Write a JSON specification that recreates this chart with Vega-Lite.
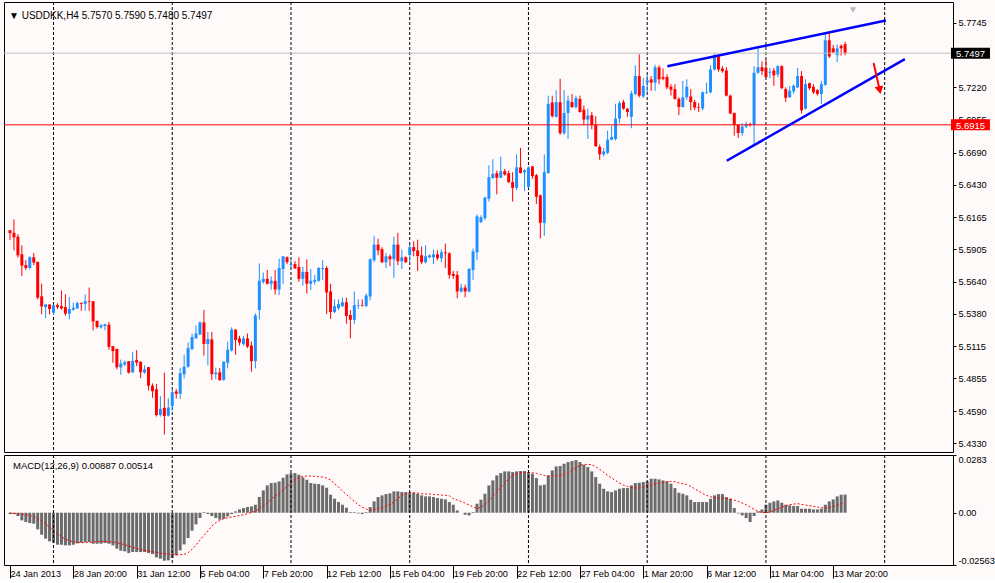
{
  "$schema": "https://vega.github.io/schema/vega-lite/v6.json",
  "background": "#FFFAFA",
  "padding": {"left": 3, "top": 1, "right": 0, "bottom": 0},
  "spacing": 1,
  "config": {
    "view": {"stroke": "#000000", "strokeWidth": 1},
    "font": "Liberation Sans",
    "axis": {"labelFont": "Liberation Sans", "labelFontSize": 9.2, "labelColor": "#000000", "tickColor": "#000000", "domain": false, "grid": false, "labelOverlap": false, "labelBound": false, "title": null},
    "axisX": {"labelAlign": "left", "labelBaseline": "top", "labelDx": 1.5, "tickSize": 13, "labelPadding": -9, "labelFlush": false},
    "axisY": {"tickSize": 3, "labelPadding": 2, "labelFlush": true}
  },
  "datasets": {
    "grid": [{"i": 11}, {"i": 41}, {"i": 71}, {"i": 101}, {"i": 131}, {"i": 161}, {"i": 191}, {"i": 221}],
    "headers": [
      {"panel": "price", "text": "▼ USDDKK,H4 5.7570 5.7590 5.7480 5.7497"},
      {"panel": "macd", "text": "MACD(12,26,9) 0.00887 0.00514"}
    ],
    "objects": [
      {"kind": "trend", "x1": 166.1, "p1": 5.739, "x2": 221.3, "p2": 5.7763},
      {"kind": "trend", "x1": 181.1, "p1": 5.6623, "x2": 226.1, "p2": 5.7449},
      {"kind": "arrow", "x1": 218.2, "p1": 5.7417, "x2": 219.75, "p2": 5.7197},
      {"kind": "shift", "x1": 213, "p1": 5.7848}
    ],
    "markers": [
      {"kind": "last", "p": 5.7497, "label": "5.7497"},
      {"kind": "level", "p": 5.6915, "label": "5.6915"}
    ],
    "bars": [
      {"i":0,"o":5.6059,"h":5.6059,"l":5.598,"c":5.6035},
      {"i":1,"o":5.6038,"h":5.6146,"l":5.5895,"c":5.6001},
      {"i":2,"o":5.6006,"h":5.6027,"l":5.5837,"c":5.5855},
      {"i":3,"o":5.5863,"h":5.5935,"l":5.5688,"c":5.5771},
      {"i":4,"o":5.5776,"h":5.5816,"l":5.5736,"c":5.5752},
      {"i":5,"o":5.5752,"h":5.5847,"l":5.5741,"c":5.5839},
      {"i":6,"o":5.5839,"h":5.5874,"l":5.5776,"c":5.5797},
      {"i":7,"o":5.5802,"h":5.5802,"l":5.5498,"c":5.5511},
      {"i":8,"o":5.5522,"h":5.5625,"l":5.5376,"c":5.544},
      {"i":9,"o":5.5434,"h":5.5456,"l":5.5344,"c":5.5456},
      {"i":10,"o":5.5456,"h":5.5456,"l":5.5376,"c":5.5419},
      {"i":11,"o":5.5389,"h":5.5456,"l":5.5371,"c":5.545},
      {"i":12,"o":5.545,"h":5.5466,"l":5.5419,"c":5.5434},
      {"i":13,"o":5.5442,"h":5.5569,"l":5.5413,"c":5.5424},
      {"i":14,"o":5.5434,"h":5.5538,"l":5.5365,"c":5.5381},
      {"i":15,"o":5.5381,"h":5.5516,"l":5.5334,"c":5.5419},
      {"i":16,"o":5.5413,"h":5.5471,"l":5.5405,"c":5.5429},
      {"i":17,"o":5.5424,"h":5.5479,"l":5.5419,"c":5.5466},
      {"i":18,"o":5.5469,"h":5.5471,"l":5.5405,"c":5.5461},
      {"i":19,"o":5.5461,"h":5.5538,"l":5.5405,"c":5.5482},
      {"i":20,"o":5.5482,"h":5.5593,"l":5.5405,"c":5.5477},
      {"i":21,"o":5.5482,"h":5.5482,"l":5.5246,"c":5.5318},
      {"i":22,"o":5.5323,"h":5.5323,"l":5.526,"c":5.5273},
      {"i":23,"o":5.527,"h":5.5299,"l":5.526,"c":5.5286},
      {"i":24,"o":5.5281,"h":5.5299,"l":5.5246,"c":5.5294},
      {"i":25,"o":5.5291,"h":5.5313,"l":5.5088,"c":5.5111},
      {"i":26,"o":5.5117,"h":5.5117,"l":5.4982,"c":5.5077},
      {"i":27,"o":5.5095,"h":5.5095,"l":5.4929,"c":5.4945},
      {"i":28,"o":5.4945,"h":5.5008,"l":5.4884,"c":5.4976},
      {"i":29,"o":5.4968,"h":5.5,"l":5.4955,"c":5.4987},
      {"i":30,"o":5.4995,"h":5.4995,"l":5.4894,"c":5.4902},
      {"i":31,"o":5.4905,"h":5.5069,"l":5.49,"c":5.4998},
      {"i":32,"o":5.5006,"h":5.5085,"l":5.4955,"c":5.4984},
      {"i":33,"o":5.499,"h":5.4995,"l":5.4857,"c":5.4905},
      {"i":34,"o":5.4902,"h":5.4961,"l":5.4894,"c":5.4929},
      {"i":35,"o":5.4947,"h":5.4947,"l":5.4757,"c":5.4796},
      {"i":36,"o":5.4796,"h":5.4815,"l":5.4698,"c":5.4751},
      {"i":37,"o":5.4767,"h":5.481,"l":5.4545,"c":5.4558},
      {"i":38,"o":5.4558,"h":5.4712,"l":5.4545,"c":5.4608},
      {"i":39,"o":5.4616,"h":5.4902,"l":5.4399,"c":5.455},
      {"i":40,"o":5.4553,"h":5.4693,"l":5.4545,"c":5.4619},
      {"i":41,"o":5.463,"h":5.4765,"l":5.4593,"c":5.4743},
      {"i":42,"o":5.4749,"h":5.477,"l":5.4691,"c":5.473},
      {"i":43,"o":5.473,"h":5.4942,"l":5.4691,"c":5.4897},
      {"i":44,"o":5.4889,"h":5.5048,"l":5.4855,"c":5.495},
      {"i":45,"o":5.495,"h":5.5148,"l":5.4942,"c":5.5101},
      {"i":46,"o":5.5093,"h":5.522,"l":5.5085,"c":5.5191},
      {"i":47,"o":5.518,"h":5.5286,"l":5.518,"c":5.522},
      {"i":48,"o":5.5212,"h":5.5318,"l":5.5207,"c":5.531},
      {"i":49,"o":5.531,"h":5.5411,"l":5.504,"c":5.5135},
      {"i":50,"o":5.5135,"h":5.5233,"l":5.4961,"c":5.5175},
      {"i":51,"o":5.5172,"h":5.5233,"l":5.4841,"c":5.4889},
      {"i":52,"o":5.4889,"h":5.4942,"l":5.4849,"c":5.4902},
      {"i":53,"o":5.4905,"h":5.4939,"l":5.4836,"c":5.4841},
      {"i":54,"o":5.4844,"h":5.4995,"l":5.4836,"c":5.499},
      {"i":55,"o":5.4982,"h":5.5154,"l":5.4937,"c":5.5088},
      {"i":56,"o":5.5082,"h":5.527,"l":5.5074,"c":5.5252},
      {"i":57,"o":5.5252,"h":5.5252,"l":5.5048,"c":5.5167},
      {"i":58,"o":5.518,"h":5.5201,"l":5.5122,"c":5.5146},
      {"i":59,"o":5.5133,"h":5.5201,"l":5.5122,"c":5.518},
      {"i":60,"o":5.518,"h":5.522,"l":5.5101,"c":5.5114},
      {"i":61,"o":5.5122,"h":5.5154,"l":5.491,"c":5.4995},
      {"i":62,"o":5.4995,"h":5.5384,"l":5.4937,"c":5.5366},
      {"i":63,"o":5.5411,"h":5.5789,"l":5.5334,"c":5.5649},
      {"i":64,"o":5.564,"h":5.5715,"l":5.5624,"c":5.5664},
      {"i":65,"o":5.5664,"h":5.5736,"l":5.5618,"c":5.5624},
      {"i":66,"o":5.5624,"h":5.5683,"l":5.5577,"c":5.5648},
      {"i":67,"o":5.5648,"h":5.5736,"l":5.5537,"c":5.5577},
      {"i":68,"o":5.5577,"h":5.5828,"l":5.5532,"c":5.5752},
      {"i":69,"o":5.5744,"h":5.5847,"l":5.5624,"c":5.5847},
      {"i":70,"o":5.5839,"h":5.5847,"l":5.5783,"c":5.5799},
      {"i":71,"o":5.5775,"h":5.5815,"l":5.5749,"c":5.5783},
      {"i":72,"o":5.5783,"h":5.5807,"l":5.5744,"c":5.5749},
      {"i":73,"o":5.576,"h":5.5839,"l":5.564,"c":5.5664},
      {"i":74,"o":5.5664,"h":5.5762,"l":5.5609,"c":5.572},
      {"i":75,"o":5.572,"h":5.5823,"l":5.5545,"c":5.5624},
      {"i":76,"o":5.5624,"h":5.5744,"l":5.5572,"c":5.5648},
      {"i":77,"o":5.564,"h":5.5696,"l":5.5617,"c":5.5656},
      {"i":78,"o":5.5648,"h":5.576,"l":5.564,"c":5.5752},
      {"i":79,"o":5.5744,"h":5.5815,"l":5.5656,"c":5.5752},
      {"i":80,"o":5.5752,"h":5.5767,"l":5.5378,"c":5.5553},
      {"i":81,"o":5.5561,"h":5.5624,"l":5.5339,"c":5.5394},
      {"i":82,"o":5.5394,"h":5.5497,"l":5.5386,"c":5.5442},
      {"i":83,"o":5.5426,"h":5.5497,"l":5.541,"c":5.5458},
      {"i":84,"o":5.5442,"h":5.5511,"l":5.5434,"c":5.5474},
      {"i":85,"o":5.5474,"h":5.5511,"l":5.5299,"c":5.5362},
      {"i":86,"o":5.537,"h":5.541,"l":5.518,"c":5.5331},
      {"i":87,"o":5.5331,"h":5.5561,"l":5.5299,"c":5.545},
      {"i":88,"o":5.5445,"h":5.5497,"l":5.5418,"c":5.545},
      {"i":89,"o":5.545,"h":5.5497,"l":5.5439,"c":5.5445},
      {"i":90,"o":5.5445,"h":5.5545,"l":5.5434,"c":5.5529},
      {"i":91,"o":5.5521,"h":5.5831,"l":5.5489,"c":5.5823},
      {"i":92,"o":5.5815,"h":5.6014,"l":5.5799,"c":5.5942},
      {"i":93,"o":5.5942,"h":5.599,"l":5.5855,"c":5.5895},
      {"i":94,"o":5.5905,"h":5.5921,"l":5.5791,"c":5.5799},
      {"i":95,"o":5.5799,"h":5.5873,"l":5.5752,"c":5.5847},
      {"i":96,"o":5.5847,"h":5.5863,"l":5.5767,"c":5.5823},
      {"i":97,"o":5.5823,"h":5.6006,"l":5.5672,"c":5.5942},
      {"i":98,"o":5.5942,"h":5.6037,"l":5.5775,"c":5.5807},
      {"i":99,"o":5.5807,"h":5.5902,"l":5.5744,"c":5.5839},
      {"i":100,"o":5.5839,"h":5.5847,"l":5.5794,"c":5.5799},
      {"i":101,"o":5.5857,"h":5.5942,"l":5.5802,"c":5.5921},
      {"i":102,"o":5.5921,"h":5.5969,"l":5.5847,"c":5.5889},
      {"i":103,"o":5.5895,"h":5.5982,"l":5.5728,"c":5.5849},
      {"i":104,"o":5.5855,"h":5.5926,"l":5.5783,"c":5.5799},
      {"i":105,"o":5.5799,"h":5.5937,"l":5.5789,"c":5.5847},
      {"i":106,"o":5.5839,"h":5.5863,"l":5.5831,"c":5.5855},
      {"i":107,"o":5.5839,"h":5.5902,"l":5.5783,"c":5.5863},
      {"i":108,"o":5.5863,"h":5.5895,"l":5.5815,"c":5.5831},
      {"i":109,"o":5.5831,"h":5.5902,"l":5.5799,"c":5.5879},
      {"i":110,"o":5.5879,"h":5.595,"l":5.5752,"c":5.5871},
      {"i":111,"o":5.5871,"h":5.5879,"l":5.5664,"c":5.5696},
      {"i":112,"o":5.5704,"h":5.5728,"l":5.5664,"c":5.5688},
      {"i":113,"o":5.5696,"h":5.5728,"l":5.5505,"c":5.5561},
      {"i":114,"o":5.5561,"h":5.5624,"l":5.5553,"c":5.5593},
      {"i":115,"o":5.5593,"h":5.5617,"l":5.5513,"c":5.5561},
      {"i":116,"o":5.5561,"h":5.5752,"l":5.5553,"c":5.5744},
      {"i":117,"o":5.5736,"h":5.591,"l":5.5656,"c":5.5887},
      {"i":118,"o":5.5879,"h":5.6188,"l":5.5815,"c":5.6172},
      {"i":119,"o":5.6125,"h":5.618,"l":5.6117,"c":5.6164},
      {"i":120,"o":5.6157,"h":5.6331,"l":5.6141,"c":5.6323},
      {"i":121,"o":5.6315,"h":5.6585,"l":5.6292,"c":5.649},
      {"i":122,"o":5.6482,"h":5.6636,"l":5.6477,"c":5.6516},
      {"i":123,"o":5.6522,"h":5.6543,"l":5.635,"c":5.6485},
      {"i":124,"o":5.6485,"h":5.6657,"l":5.6482,"c":5.6538},
      {"i":125,"o":5.6538,"h":5.6556,"l":5.6503,"c":5.6511},
      {"i":126,"o":5.6522,"h":5.6543,"l":5.6442,"c":5.645},
      {"i":127,"o":5.645,"h":5.653,"l":5.6291,"c":5.6403},
      {"i":128,"o":5.6403,"h":5.6675,"l":5.6384,"c":5.6569},
      {"i":129,"o":5.6569,"h":5.6728,"l":5.652,"c":5.6524},
      {"i":130,"o":5.653,"h":5.6556,"l":5.6376,"c":5.6546},
      {"i":131,"o":5.6411,"h":5.6577,"l":5.6403,"c":5.6569},
      {"i":132,"o":5.6577,"h":5.6583,"l":5.6477,"c":5.6498},
      {"i":133,"o":5.6506,"h":5.6516,"l":5.6273,"c":5.6331},
      {"i":134,"o":5.6342,"h":5.635,"l":5.5992,"c":5.6119},
      {"i":135,"o":5.6119,"h":5.6675,"l":5.6014,"c":5.653},
      {"i":136,"o":5.6524,"h":5.7152,"l":5.6516,"c":5.7086},
      {"i":137,"o":5.7096,"h":5.7152,"l":5.6974,"c":5.6985},
      {"i":138,"o":5.698,"h":5.7197,"l":5.6974,"c":5.7099},
      {"i":139,"o":5.7099,"h":5.7289,"l":5.6834,"c":5.6847},
      {"i":140,"o":5.6847,"h":5.7197,"l":5.6834,"c":5.7011},
      {"i":141,"o":5.7011,"h":5.7152,"l":5.68,"c":5.7112},
      {"i":142,"o":5.7099,"h":5.7165,"l":5.7051,"c":5.7059},
      {"i":143,"o":5.7059,"h":5.7152,"l":5.7046,"c":5.7133},
      {"i":144,"o":5.7125,"h":5.7152,"l":5.7014,"c":5.7019},
      {"i":145,"o":5.7038,"h":5.7072,"l":5.6913,"c":5.6958},
      {"i":146,"o":5.6958,"h":5.7046,"l":5.68,"c":5.699},
      {"i":147,"o":5.6993,"h":5.7019,"l":5.6879,"c":5.6913},
      {"i":148,"o":5.6913,"h":5.6985,"l":5.6736,"c":5.6741},
      {"i":149,"o":5.6736,"h":5.6755,"l":5.663,"c":5.6675},
      {"i":150,"o":5.6675,"h":5.6728,"l":5.6657,"c":5.6699},
      {"i":151,"o":5.6688,"h":5.6868,"l":5.6675,"c":5.6794},
      {"i":152,"o":5.6794,"h":5.6906,"l":5.6789,"c":5.6816},
      {"i":153,"o":5.68,"h":5.7086,"l":5.6789,"c":5.6966},
      {"i":154,"o":5.6966,"h":5.7107,"l":5.6927,"c":5.7091},
      {"i":155,"o":5.7099,"h":5.7117,"l":5.7038,"c":5.7046},
      {"i":156,"o":5.7046,"h":5.705,"l":5.698,"c":5.7019},
      {"i":157,"o":5.698,"h":5.7191,"l":5.6887,"c":5.717},
      {"i":158,"o":5.7165,"h":5.7398,"l":5.7157,"c":5.7311},
      {"i":159,"o":5.7311,"h":5.7488,"l":5.7138,"c":5.7152},
      {"i":160,"o":5.7146,"h":5.7297,"l":5.7133,"c":5.7231},
      {"i":161,"o":5.7258,"h":5.7324,"l":5.7178,"c":5.7276},
      {"i":162,"o":5.7284,"h":5.7311,"l":5.7191,"c":5.7258},
      {"i":163,"o":5.7258,"h":5.7403,"l":5.7191,"c":5.7382},
      {"i":164,"o":5.7382,"h":5.7398,"l":5.7244,"c":5.7284},
      {"i":165,"o":5.7303,"h":5.7372,"l":5.7277,"c":5.729},
      {"i":166,"o":5.7303,"h":5.7325,"l":5.7205,"c":5.7219},
      {"i":167,"o":5.7224,"h":5.7245,"l":5.7152,"c":5.72},
      {"i":168,"o":5.7205,"h":5.7245,"l":5.7118,"c":5.7126},
      {"i":169,"o":5.7126,"h":5.7139,"l":5.6994,"c":5.706},
      {"i":170,"o":5.706,"h":5.7272,"l":5.7055,"c":5.7139},
      {"i":171,"o":5.7139,"h":5.7285,"l":5.7118,"c":5.7224},
      {"i":172,"o":5.7145,"h":5.7205,"l":5.7033,"c":5.71},
      {"i":173,"o":5.71,"h":5.7118,"l":5.7033,"c":5.7055},
      {"i":174,"o":5.706,"h":5.7092,"l":5.702,"c":5.7055},
      {"i":175,"o":5.7047,"h":5.7187,"l":5.7033,"c":5.7179},
      {"i":176,"o":5.7174,"h":5.7258,"l":5.7166,"c":5.7179},
      {"i":177,"o":5.7179,"h":5.7399,"l":5.7171,"c":5.7364},
      {"i":178,"o":5.7364,"h":5.7489,"l":5.7356,"c":5.7478},
      {"i":179,"o":5.7478,"h":5.7483,"l":5.7346,"c":5.7364},
      {"i":180,"o":5.7372,"h":5.7391,"l":5.7338,"c":5.7351},
      {"i":181,"o":5.7356,"h":5.7383,"l":5.7145,"c":5.7152},
      {"i":182,"o":5.7152,"h":5.716,"l":5.7002,"c":5.7007},
      {"i":183,"o":5.7012,"h":5.7012,"l":5.6827,"c":5.6914},
      {"i":184,"o":5.6914,"h":5.6914,"l":5.6808,"c":5.6848},
      {"i":185,"o":5.6848,"h":5.6927,"l":5.6827,"c":5.6901},
      {"i":186,"o":5.6901,"h":5.6941,"l":5.6888,"c":5.692},
      {"i":187,"o":5.6922,"h":5.6933,"l":5.6901,"c":5.6914},
      {"i":188,"o":5.6914,"h":5.7391,"l":5.6755,"c":5.7338},
      {"i":189,"o":5.7338,"h":5.755,"l":5.733,"c":5.7383},
      {"i":190,"o":5.7383,"h":5.743,"l":5.7319,"c":5.7351},
      {"i":191,"o":5.7377,"h":5.7444,"l":5.7298,"c":5.7303},
      {"i":192,"o":5.7338,"h":5.7377,"l":5.7293,"c":5.7346},
      {"i":193,"o":5.7356,"h":5.7377,"l":5.7232,"c":5.7317},
      {"i":194,"o":5.7325,"h":5.7399,"l":5.7303,"c":5.7391},
      {"i":195,"o":5.7391,"h":5.7399,"l":5.7205,"c":5.7213},
      {"i":196,"o":5.7205,"h":5.7219,"l":5.71,"c":5.7134},
      {"i":197,"o":5.7139,"h":5.7232,"l":5.7134,"c":5.7192},
      {"i":198,"o":5.7187,"h":5.7245,"l":5.7166,"c":5.7232},
      {"i":199,"o":5.7219,"h":5.7377,"l":5.7213,"c":5.7311},
      {"i":200,"o":5.7311,"h":5.7351,"l":5.7007,"c":5.7033},
      {"i":201,"o":5.7047,"h":5.7285,"l":5.7039,"c":5.7245},
      {"i":202,"o":5.7253,"h":5.7258,"l":5.7197,"c":5.7213},
      {"i":203,"o":5.7224,"h":5.7245,"l":5.7166,"c":5.7179},
      {"i":204,"o":5.7197,"h":5.7205,"l":5.7152,"c":5.7166},
      {"i":205,"o":5.7166,"h":5.7272,"l":5.7086,"c":5.7245},
      {"i":206,"o":5.724,"h":5.7663,"l":5.7232,"c":5.7602},
      {"i":207,"o":5.7602,"h":5.7668,"l":5.7457,"c":5.747},
      {"i":208,"o":5.7536,"h":5.7563,"l":5.7497,"c":5.7505},
      {"i":209,"o":5.7483,"h":5.7568,"l":5.7425,"c":5.7536},
      {"i":210,"o":5.7557,"h":5.7568,"l":5.7478,"c":5.7536},
      {"i":211,"o":5.757,"h":5.759,"l":5.748,"c":5.7497}
    ],
    "macd": [
      {"i":0,"m":-0.00065,"s":-0.00015},{"i":1,"m":-0.00065,"s":-0.00033},{"i":2,"m":-0.00163,"s":-0.00049},
      {"i":3,"m":-0.00376,"s":-0.00065},{"i":4,"m":-0.00458,"s":-0.00098},{"i":5,"m":-0.00507,"s":-0.00131},
      {"i":6,"m":-0.00539,"s":-0.00196},{"i":7,"m":-0.00817,"s":-0.00278},{"i":8,"m":-0.01078,"s":-0.00392},
      {"i":9,"m":-0.01274,"s":-0.00539},{"i":10,"m":-0.01405,"s":-0.00703},{"i":11,"m":-0.01471,"s":-0.00882},
      {"i":12,"m":-0.01569,"s":-0.01029},{"i":13,"m":-0.01569,"s":-0.01176},{"i":14,"m":-0.01601,"s":-0.01291},
      {"i":15,"m":-0.01601,"s":-0.01373},{"i":16,"m":-0.01569,"s":-0.01422},{"i":17,"m":-0.01503,"s":-0.01454},
      {"i":18,"m":-0.01471,"s":-0.01471},{"i":19,"m":-0.01454,"s":-0.01471},{"i":20,"m":-0.01438,"s":-0.01454},
      {"i":21,"m":-0.0152,"s":-0.01438},{"i":22,"m":-0.0152,"s":-0.01422},{"i":23,"m":-0.0152,"s":-0.01405},
      {"i":24,"m":-0.01487,"s":-0.01405},{"i":25,"m":-0.0152,"s":-0.01422},{"i":26,"m":-0.01601,"s":-0.01438},
      {"i":27,"m":-0.01765,"s":-0.01471},{"i":28,"m":-0.01863,"s":-0.0152},{"i":29,"m":-0.01895,"s":-0.01569},
      {"i":30,"m":-0.01977,"s":-0.01634},{"i":31,"m":-0.01928,"s":-0.01683},{"i":32,"m":-0.01928,"s":-0.01748},
      {"i":33,"m":-0.01928,"s":-0.01797},{"i":34,"m":-0.01928,"s":-0.01846},{"i":35,"m":-0.01977,"s":-0.01879},
      {"i":36,"m":-0.02026,"s":-0.01912},{"i":37,"m":-0.0219,"s":-0.01944},{"i":38,"m":-0.02255,"s":-0.01977},
      {"i":39,"m":-0.02353,"s":-0.0201},{"i":40,"m":-0.02337,"s":-0.02026},{"i":41,"m":-0.02222,"s":-0.02043},
      {"i":42,"m":-0.02092,"s":-0.02059},{"i":43,"m":-0.01846,"s":-0.02059},{"i":44,"m":-0.01552,"s":-0.02043},
      {"i":45,"m":-0.01242,"s":-0.01961},{"i":46,"m":-0.00882,"s":-0.01797},{"i":47,"m":-0.00572,"s":-0.01585},
      {"i":48,"m":-0.00261,"s":-0.0134},{"i":49,"m":0.00033,"s":-0.01111},{"i":50,"m":-0.00065,"s":-0.00882},
      {"i":51,"m":-0.00163,"s":-0.00654},{"i":52,"m":-0.00261,"s":-0.0049},{"i":53,"m":-0.00343,"s":-0.00376},
      {"i":54,"m":-0.00294,"s":-0.00294},{"i":55,"m":-0.0018,"s":-0.00245},{"i":56,"m":-0.00065,"s":-0.00212},
      {"i":57,"m":0.00065,"s":-0.0018},{"i":58,"m":0.00163,"s":-0.00131},{"i":59,"m":0.00229,"s":-0.00098},
      {"i":60,"m":0.00278,"s":-0.00049},{"i":61,"m":0.0031,"s":0.00016},{"i":62,"m":0.00392,"s":0.00065},
      {"i":63,"m":0.00768,"s":0.00196},{"i":64,"m":0.01095,"s":0.00359},{"i":65,"m":0.0134,"s":0.0049},
      {"i":66,"m":0.01454,"s":0.0067},{"i":67,"m":0.01471,"s":0.00817},{"i":68,"m":0.01536,"s":0.00964},
      {"i":69,"m":0.01716,"s":0.01111},{"i":70,"m":0.01879,"s":0.01275},{"i":71,"m":0.01944,"s":0.01471},
      {"i":72,"m":0.01944,"s":0.01618},{"i":73,"m":0.01863,"s":0.01716},{"i":74,"m":0.01732,"s":0.01781},
      {"i":75,"m":0.01618,"s":0.01797},{"i":76,"m":0.01454,"s":0.01797},{"i":77,"m":0.01422,"s":0.01781},
      {"i":78,"m":0.01405,"s":0.01765},{"i":79,"m":0.0134,"s":0.01748},{"i":80,"m":0.01226,"s":0.01699},
      {"i":81,"m":0.00882,"s":0.01601},{"i":82,"m":0.00686,"s":0.01422},{"i":83,"m":0.00523,"s":0.01258},
      {"i":84,"m":0.00392,"s":0.01062},{"i":85,"m":0.00245,"s":0.00899},{"i":86,"m":0.00033,"s":0.00719},
      {"i":87,"m":0.00033,"s":0.00556},{"i":88,"m":-0.00033,"s":0.00392},{"i":89,"m":-0.00065,"s":0.00278},
      {"i":90,"m":0.00033,"s":0.0018},{"i":91,"m":0.00278,"s":0.00114},{"i":92,"m":0.00556,"s":0.00147},
      {"i":93,"m":0.00768,"s":0.00196},{"i":94,"m":0.0085,"s":0.00261},{"i":95,"m":0.00915,"s":0.00327},
      {"i":96,"m":0.00948,"s":0.00409},{"i":97,"m":0.01046,"s":0.00523},{"i":98,"m":0.01046,"s":0.00686},
      {"i":99,"m":0.01013,"s":0.0085},{"i":100,"m":0.01013,"s":0.00915},{"i":101,"m":0.00997,"s":0.0098},
      {"i":102,"m":0.0098,"s":0.0098},{"i":103,"m":0.00931,"s":0.00964},{"i":104,"m":0.0085,"s":0.00931},
      {"i":105,"m":0.00801,"s":0.00915},{"i":106,"m":0.00801,"s":0.00915},{"i":107,"m":0.00768,"s":0.00899},
      {"i":108,"m":0.00719,"s":0.00882},{"i":109,"m":0.00686,"s":0.00866},{"i":110,"m":0.00654,"s":0.0085},
      {"i":111,"m":0.00523,"s":0.00833},{"i":112,"m":0.00392,"s":0.00686},{"i":113,"m":0.00114,"s":0.00621},
      {"i":114,"m":0.0,"s":0.00556},{"i":115,"m":-0.00098,"s":0.00474},{"i":116,"m":-0.00131,"s":0.00376},
      {"i":117,"m":0.00033,"s":0.00278},{"i":118,"m":0.00441,"s":0.00212},{"i":119,"m":0.00637,"s":0.00261},
      {"i":120,"m":0.00931,"s":0.00392},{"i":121,"m":0.0134,"s":0.00588},{"i":122,"m":0.01585,"s":0.00817},
      {"i":123,"m":0.0183,"s":0.01013},{"i":124,"m":0.01944,"s":0.01242},{"i":125,"m":0.02026,"s":0.01438},
      {"i":126,"m":0.02026,"s":0.01667},{"i":127,"m":0.01993,"s":0.0183},{"i":128,"m":0.02026,"s":0.01912},
      {"i":129,"m":0.02043,"s":0.01961},{"i":130,"m":0.02043,"s":0.01977},{"i":131,"m":0.01993,"s":0.01977},
      {"i":132,"m":0.01912,"s":0.01961},{"i":133,"m":0.01699,"s":0.01928},{"i":134,"m":0.0134,"s":0.01879},
      {"i":135,"m":0.01373,"s":0.0183},{"i":136,"m":0.0183,"s":0.01797},{"i":137,"m":0.02075,"s":0.01797},
      {"i":138,"m":0.02271,"s":0.01814},{"i":139,"m":0.02288,"s":0.0183},{"i":140,"m":0.02402,"s":0.01879},
      {"i":141,"m":0.02484,"s":0.01961},{"i":142,"m":0.02533,"s":0.02075},{"i":143,"m":0.02582,"s":0.02206},
      {"i":144,"m":0.02484,"s":0.0232},{"i":145,"m":0.02353,"s":0.02369},{"i":146,"m":0.02239,"s":0.02369},
      {"i":147,"m":0.02026,"s":0.02353},{"i":148,"m":0.01748,"s":0.02255},{"i":149,"m":0.01422,"s":0.02124},
      {"i":150,"m":0.01176,"s":0.01977},{"i":151,"m":0.01046,"s":0.0183},{"i":152,"m":0.01013,"s":0.01699},
      {"i":153,"m":0.01095,"s":0.01585},{"i":154,"m":0.01176,"s":0.01454},{"i":155,"m":0.01209,"s":0.01356},
      {"i":156,"m":0.01209,"s":0.01291},{"i":157,"m":0.0134,"s":0.01242},{"i":158,"m":0.01454,"s":0.01209},
      {"i":159,"m":0.01471,"s":0.01209},{"i":160,"m":0.01503,"s":0.01258},{"i":161,"m":0.01536,"s":0.01324},
      {"i":162,"m":0.01667,"s":0.01373},{"i":163,"m":0.01667,"s":0.01422},{"i":164,"m":0.01634,"s":0.01454},
      {"i":165,"m":0.01585,"s":0.01487},{"i":166,"m":0.01536,"s":0.0152},{"i":167,"m":0.01422,"s":0.01536},
      {"i":168,"m":0.01209,"s":0.0152},{"i":169,"m":0.0098,"s":0.01471},{"i":170,"m":0.00931,"s":0.01422},
      {"i":171,"m":0.0085,"s":0.01373},{"i":172,"m":0.00637,"s":0.01291},{"i":173,"m":0.00523,"s":0.01176},
      {"i":174,"m":0.00523,"s":0.01062},{"i":175,"m":0.00523,"s":0.00948},{"i":176,"m":0.00523,"s":0.0085},
      {"i":177,"m":0.00686,"s":0.00784},{"i":178,"m":0.0085,"s":0.00735},{"i":179,"m":0.00915,"s":0.00719},
      {"i":180,"m":0.00915,"s":0.00703},{"i":181,"m":0.00768,"s":0.00686},{"i":182,"m":0.00686,"s":0.0067},
      {"i":183,"m":0.00229,"s":0.00621},{"i":184,"m":-0.00033,"s":0.00556},{"i":185,"m":-0.00131,"s":0.00474},
      {"i":186,"m":-0.00261,"s":0.00392},{"i":187,"m":-0.00458,"s":0.00278},{"i":188,"m":-0.00163,"s":0.00163},
      {"i":189,"m":0.00065,"s":0.00065},{"i":190,"m":0.00163,"s":0.00016},{"i":191,"m":0.00392,"s":0.0},
      {"i":192,"m":0.0049,"s":0.00033},{"i":193,"m":0.00556,"s":0.00114},{"i":194,"m":0.00605,"s":0.00196},
      {"i":195,"m":0.0049,"s":0.00261},{"i":196,"m":0.00392,"s":0.00343},{"i":197,"m":0.00359,"s":0.00392},
      {"i":198,"m":0.00327,"s":0.00425},{"i":199,"m":0.00327,"s":0.00441},{"i":200,"m":0.00196,"s":0.00409},
      {"i":201,"m":0.00196,"s":0.00376},{"i":202,"m":0.00196,"s":0.00343},{"i":203,"m":0.00163,"s":0.0031},
      {"i":204,"m":0.00163,"s":0.00278},{"i":205,"m":0.00196,"s":0.00245},{"i":206,"m":0.00392,"s":0.00229},
      {"i":207,"m":0.00556,"s":0.00261},{"i":208,"m":0.00654,"s":0.0031},{"i":209,"m":0.00801,"s":0.00359},
      {"i":210,"m":0.00882,"s":0.00425},{"i":211,"m":0.00887,"s":0.00514}
    ]
  },
  "vconcat": [
    {
      "width": 949,
      "height": 450,
      "layer": [
        {
          "data": {"name": "grid"},
          "mark": {"type": "rule", "color": "#000000", "strokeDash": [3, 2], "strokeWidth": 1},
          "encoding": {
            "x": {"field": "i", "type": "quantitative", "scale": {"domain": [-0.25, 237], "nice": false, "zero": false}, "axis": null}
          }
        },
        {
          "data": {"name": "bars"},
          "mark": {"type": "rule", "strokeWidth": 1},
          "encoding": {
            "x": {"field": "i", "type": "quantitative", "axis": null},
            "y": {
              "field": "l", "type": "quantitative",
              "scale": {"domain": [5.4298, 5.7872], "nice": false, "zero": false},
              "axis": {"orient": "right", "title": null, "labelOverlap": false, "values": [5.433, 5.459, 5.4855, 5.5115, 5.538, 5.564, 5.5905, 5.6165, 5.643, 5.669, 5.6955, 5.722, 5.7745], "labelExpr": "format(datum.value, '.4f')"}
            },
            "y2": {"field": "h"},
            "color": {"condition": {"test": "datum.c >= datum.o", "value": "#1E90FF"}, "value": "#FF0000"}
          }
        },
        {
          "data": {"name": "bars"},
          "mark": {"type": "bar", "width": 3, "orient": "vertical"},
          "encoding": {
            "x": {"field": "i", "type": "quantitative", "axis": null},
            "y": {"field": "o", "type": "quantitative", "axis": {"orient": "right", "title": null, "labelOverlap": false, "values": [5.433, 5.459, 5.4855, 5.5115, 5.538, 5.564, 5.5905, 5.6165, 5.643, 5.669, 5.6955, 5.722, 5.7745], "labelExpr": "format(datum.value, '.4f')"}},
            "y2": {"field": "c"},
            "color": {"condition": {"test": "datum.c >= datum.o", "value": "#1E90FF"}, "value": "#FF0000"}
          }
        },
        {
          "data": {"name": "markers"},
          "transform": [{"filter": "datum.kind == 'last'"}],
          "mark": {"type": "rule", "color": "#C0C0C0", "strokeWidth": 1},
          "encoding": {"y": {"field": "p", "type": "quantitative", "axis": {"orient": "right", "title": null, "labelOverlap": false, "values": [5.433, 5.459, 5.4855, 5.5115, 5.538, 5.564, 5.5905, 5.6165, 5.643, 5.669, 5.6955, 5.722, 5.7745], "labelExpr": "format(datum.value, '.4f')"}}}
        },
        {
          "data": {"name": "markers"},
          "transform": [{"filter": "datum.kind == 'level'"}],
          "mark": {"type": "rule", "color": "#FF0000", "strokeWidth": 1},
          "encoding": {"y": {"field": "p", "type": "quantitative", "axis": {"orient": "right", "title": null, "labelOverlap": false, "values": [5.433, 5.459, 5.4855, 5.5115, 5.538, 5.564, 5.5905, 5.6165, 5.643, 5.669, 5.6955, 5.722, 5.7745], "labelExpr": "format(datum.value, '.4f')"}}}
        },
        {
          "data": {"name": "objects"},
          "transform": [{"filter": "datum.kind == 'trend'"}],
          "mark": {"type": "rule", "color": "#0000FF", "strokeWidth": 2.5},
          "encoding": {
            "x": {"field": "x1", "type": "quantitative", "axis": null},
            "x2": {"field": "x2"},
            "y": {"field": "p1", "type": "quantitative", "axis": {"orient": "right", "title": null, "labelOverlap": false, "values": [5.433, 5.459, 5.4855, 5.5115, 5.538, 5.564, 5.5905, 5.6165, 5.643, 5.669, 5.6955, 5.722, 5.7745], "labelExpr": "format(datum.value, '.4f')"}},
            "y2": {"field": "p2"}
          }
        },
        {
          "data": {"name": "objects"},
          "transform": [{"filter": "datum.kind == 'arrow'"}],
          "mark": {"type": "rule", "color": "#FF0000", "strokeWidth": 2},
          "encoding": {
            "x": {"field": "x1", "type": "quantitative", "axis": null},
            "x2": {"field": "x2"},
            "y": {"field": "p1", "type": "quantitative", "axis": {"orient": "right", "title": null, "labelOverlap": false, "values": [5.433, 5.459, 5.4855, 5.5115, 5.538, 5.564, 5.5905, 5.6165, 5.643, 5.669, 5.6955, 5.722, 5.7745], "labelExpr": "format(datum.value, '.4f')"}},
            "y2": {"field": "p2"}
          }
        },
        {
          "data": {"name": "objects"},
          "transform": [{"filter": "datum.kind == 'arrow'"}],
          "mark": {"type": "point", "shape": "triangle-down", "filled": true, "color": "#FF0000", "size": 80, "angle": -12, "opacity": 1},
          "encoding": {
            "x": {"field": "x2", "type": "quantitative", "axis": null},
            "y": {"field": "p2", "type": "quantitative", "axis": {"orient": "right", "title": null, "labelOverlap": false, "values": [5.433, 5.459, 5.4855, 5.5115, 5.538, 5.564, 5.5905, 5.6165, 5.643, 5.669, 5.6955, 5.722, 5.7745], "labelExpr": "format(datum.value, '.4f')"}}
          }
        },
        {
          "data": {"name": "objects"},
          "transform": [{"filter": "datum.kind == 'shift'"}],
          "mark": {"type": "point", "shape": "triangle-down", "filled": true, "color": "#B8B8B8", "size": 40, "opacity": 1},
          "encoding": {
            "x": {"field": "x1", "type": "quantitative", "axis": null},
            "y": {"field": "p1", "type": "quantitative", "axis": {"orient": "right", "title": null, "labelOverlap": false, "values": [5.433, 5.459, 5.4855, 5.5115, 5.538, 5.564, 5.5905, 5.6165, 5.643, 5.669, 5.6955, 5.722, 5.7745], "labelExpr": "format(datum.value, '.4f')"}}
          }
        },
        {
          "data": {"name": "markers"},
          "mark": {"type": "bar", "orient": "horizontal", "height": 11},
          "encoding": {
            "x": {"datum": 237.75, "type": "quantitative", "axis": null},
            "x2": {"datum": 247.6},
            "y": {"field": "p", "type": "quantitative", "axis": {"orient": "right", "title": null, "labelOverlap": false, "values": [5.433, 5.459, 5.4855, 5.5115, 5.538, 5.564, 5.5905, 5.6165, 5.643, 5.669, 5.6955, 5.722, 5.7745], "labelExpr": "format(datum.value, '.4f')"}},
            "color": {"condition": {"test": "datum.kind == 'last'", "value": "#000000"}, "value": "#FF0000"}
          }
        },
        {
          "data": {"name": "markers"},
          "mark": {"type": "text", "color": "#FFFFFF", "fontSize": 9.5, "align": "center", "baseline": "middle", "dy": 1},
          "encoding": {
            "x": {"datum": 242.7, "type": "quantitative", "axis": null},
            "y": {"field": "p", "type": "quantitative", "axis": {"orient": "right", "title": null, "labelOverlap": false, "values": [5.433, 5.459, 5.4855, 5.5115, 5.538, 5.564, 5.5905, 5.6165, 5.643, 5.669, 5.6955, 5.722, 5.7745], "labelExpr": "format(datum.value, '.4f')"}},
            "text": {"field": "label"}
          }
        },
        {
          "data": {"name": "headers"},
          "transform": [{"filter": "datum.panel == 'price'"}],
          "mark": {"type": "text", "color": "#000000", "fontSize": 10, "align": "left", "baseline": "alphabetic"},
          "encoding": {
            "x": {"datum": -0.25, "type": "quantitative", "axis": null},
            "y": {"datum": 5.7774, "type": "quantitative", "axis": {"orient": "right", "title": null, "labelOverlap": false, "values": [5.433, 5.459, 5.4855, 5.5115, 5.538, 5.564, 5.5905, 5.6165, 5.643, 5.669, 5.6955, 5.722, 5.7745], "labelExpr": "format(datum.value, '.4f')"}},
            "text": {"field": "text"}
          }
        }
      ]
    },
    {
      "width": 949,
      "height": 110,
      "layer": [
        {
          "data": {"name": "macd"},
          "mark": {"type": "bar", "width": 3, "color": "#6B6B6B", "orient": "vertical"},
          "encoding": {
            "x": {
              "field": "i", "type": "quantitative",
              "scale": {"domain": [-0.25, 237], "nice": false, "zero": false},
              "axis": {"title": null, "labelOverlap": false, "values": [0, 16, 32, 48, 64, 80, 96, 112, 128, 144, 160, 176, 192, 208], "labelExpr": "['24 Jan 2013','28 Jan 20:00','31 Jan 12:00','5 Feb 04:00','7 Feb 20:00','12 Feb 12:00','15 Feb 04:00','19 Feb 20:00','22 Feb 12:00','27 Feb 04:00','1 Mar 20:00','6 Mar 12:00','11 Mar 04:00','13 Mar 20:00'][round(datum.value / 16)]"}
            },
            "y": {
              "field": "m", "type": "quantitative",
              "scale": {"domain": [-0.02563, 0.0283], "nice": false, "zero": false},
              "axis": {"orient": "right", "title": null, "labelOverlap": false, "values": [-0.02563, 0, 0.0283], "labelExpr": "datum.value == 0 ? '0.00' : '' + datum.value"}
            },
            "y2": {"datum": 0}
          }
        },
        {
          "data": {"name": "macd"},
          "mark": {"type": "line", "color": "#FF0000", "strokeWidth": 1, "strokeDash": [2, 2], "strokeJoin": "round"},
          "encoding": {
            "x": {"field": "i", "type": "quantitative", "axis": {"title": null, "labelOverlap": false, "values": [0, 16, 32, 48, 64, 80, 96, 112, 128, 144, 160, 176, 192, 208], "labelExpr": "['24 Jan 2013','28 Jan 20:00','31 Jan 12:00','5 Feb 04:00','7 Feb 20:00','12 Feb 12:00','15 Feb 04:00','19 Feb 20:00','22 Feb 12:00','27 Feb 04:00','1 Mar 20:00','6 Mar 12:00','11 Mar 04:00','13 Mar 20:00'][round(datum.value / 16)]"}},
            "y": {"field": "s", "type": "quantitative", "axis": {"orient": "right", "title": null, "labelOverlap": false, "values": [-0.02563, 0, 0.0283], "labelExpr": "datum.value == 0 ? '0.00' : '' + datum.value"}}
          }
        },
        {
          "data": {"name": "grid"},
          "mark": {"type": "rule", "color": "#000000", "strokeDash": [3, 2], "strokeWidth": 1},
          "encoding": {
            "x": {"field": "i", "type": "quantitative", "axis": {"title": null, "labelOverlap": false, "values": [0, 16, 32, 48, 64, 80, 96, 112, 128, 144, 160, 176, 192, 208], "labelExpr": "['24 Jan 2013','28 Jan 20:00','31 Jan 12:00','5 Feb 04:00','7 Feb 20:00','12 Feb 12:00','15 Feb 04:00','19 Feb 20:00','22 Feb 12:00','27 Feb 04:00','1 Mar 20:00','6 Mar 12:00','11 Mar 04:00','13 Mar 20:00'][round(datum.value / 16)]"}}
          }
        },
        {
          "data": {"name": "headers"},
          "transform": [{"filter": "datum.panel == 'macd'"}],
          "mark": {"type": "text", "color": "#000000", "fontSize": 9.5, "align": "left", "baseline": "alphabetic", "dx": 4},
          "encoding": {
            "x": {"datum": -0.25, "type": "quantitative", "axis": {"title": null, "labelOverlap": false, "values": [0, 16, 32, 48, 64, 80, 96, 112, 128, 144, 160, 176, 192, 208], "labelExpr": "['24 Jan 2013','28 Jan 20:00','31 Jan 12:00','5 Feb 04:00','7 Feb 20:00','12 Feb 12:00','15 Feb 04:00','19 Feb 20:00','22 Feb 12:00','27 Feb 04:00','1 Mar 20:00','6 Mar 12:00','11 Mar 04:00','13 Mar 20:00'][round(datum.value / 16)]"}},
            "y": {"datum": 0.02144, "type": "quantitative", "axis": {"orient": "right", "title": null, "labelOverlap": false, "values": [-0.02563, 0, 0.0283], "labelExpr": "datum.value == 0 ? '0.00' : '' + datum.value"}},
            "text": {"field": "text"}
          }
        }
      ]
    }
  ]
}
